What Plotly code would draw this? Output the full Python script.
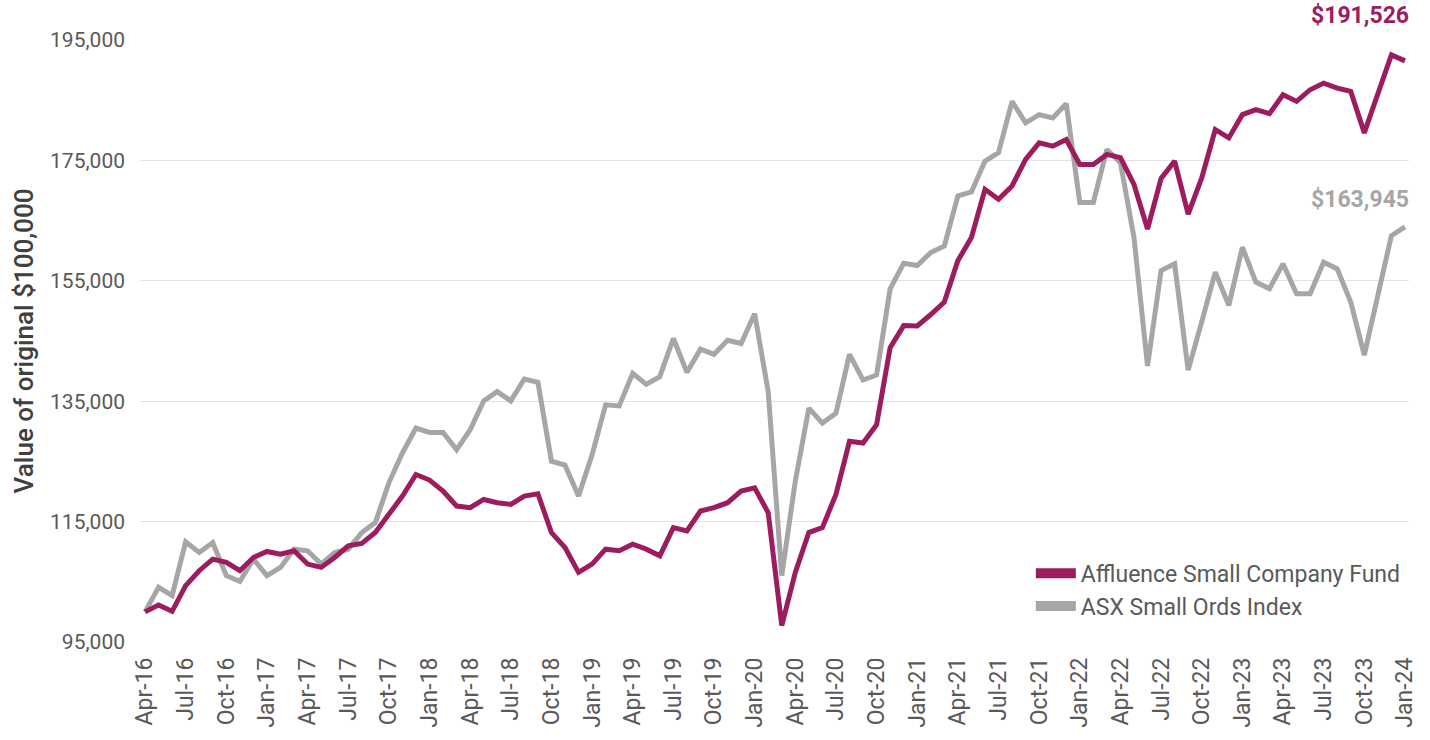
import pandas as pd
import plotly.graph_objects as go

months = [d.strftime("%b-%y") for d in pd.date_range("2016-04-01", "2024-01-01", freq="MS")]

fund = [100000, 101160, 100100, 104370, 106840, 108760, 108220, 106840, 109040, 110040,
        109590, 110150, 107940, 107390, 109040, 110970, 111360, 113180, 116210, 119240,
        122820, 121900, 120070, 117590, 117310, 118680, 118140, 117860, 119240, 119620,
        113180, 110700, 106570, 107940, 110420, 110150, 111250, 110420, 109320, 114000,
        113460, 116760, 117310, 118140, 120070, 120620, 116480, 97740, 106570, 113180,
        114000, 119510, 128330, 128050, 131080, 143900, 147560, 147510, 149400, 151460,
        158350, 162210, 170200, 168550, 170750, 175160, 177920, 177370, 178470, 174330,
        174330, 176000, 175450, 171000, 163590, 172000, 174880, 166070, 172090, 180120,
        178740, 182600, 183430, 182760, 185900, 184800, 186740, 187840, 187010, 186460,
        179570, 185900, 192520, 191526]

index = [100000, 104085, 102700, 111640, 109870, 111520, 106015, 105080, 108760, 106015,
         107390, 110420, 110150, 107940, 109870, 110420, 113180, 114830, 121440, 126400,
         130530, 129800, 129800, 126950, 130250, 135050, 136600, 135050, 138680, 138140,
         125030, 124370, 119240, 126120, 134390, 134220, 139620, 137800, 139070, 145410,
         139790, 143640, 142800, 145130, 144580, 149540, 136600, 106020, 121720, 133840,
         131360, 133010, 142770, 138520, 139350, 153680, 157900, 157530, 159700, 160800,
         169100, 169760, 174880, 176270, 184800, 181230, 182600, 182060, 184420, 168010,
         168010, 176820, 174620, 162200, 140850, 156700, 157810, 140170, 148170, 156430,
         150920, 160570, 154780, 153680, 157810, 152850, 152850, 158080, 156980, 151460,
         142650, 152570, 162490, 163945]

series_names = ["Affluence Small Company Fund", "ASX Small Ords Index"]
y_ticks = [95000, 115000, 135000, 155000, 175000, 195000]
tick_months = months[::3]

PURPLE = "#9c1c5e"
GREY = "#a6a6a6"
FONT = "Roboto"

fig = go.Figure()
for name, vals, col in [(series_names[1], index, GREY), (series_names[0], fund, PURPLE)]:
    fig.add_trace(go.Scatter(x=months, y=vals, mode="lines", name=name,
                             line=dict(color=col, width=5, shape="linear"),
                             showlegend=False, hoverinfo="x+y"))
# legend entries (thick swatches)
for name, col in [(series_names[0], PURPLE), (series_names[1], GREY)]:
    fig.add_trace(go.Scatter(x=[None], y=[None], mode="lines", name=name,
                             line=dict(color=col, width=14)))

# end-value labels
for vals, col in [(fund, PURPLE), (index, GREY)]:
    fig.add_annotation(x=months[-1], y=vals[-1], text=f"${vals[-1]:,.0f}",
                       showarrow=False, xanchor="right", yanchor="bottom",
                       xshift=6, yshift=12 if col == GREY else 30,
                       font=dict(family=FONT, size=23, color=col, weight="bold"))

fig.update_layout(
    width=1430, height=740,
    margin=dict(l=140, r=20, t=40, b=95),
    plot_bgcolor="white", paper_bgcolor="white",
    font=dict(family=FONT, color="#595959"),
    legend=dict(x=0.702, y=0.15, xanchor="left", yanchor="top",
                font=dict(family=FONT, size=23, color="#595959"),
                itemwidth=40, tracegroupgap=0, bgcolor="rgba(0,0,0,0)"),
    xaxis=dict(type="category", categoryorder="array", categoryarray=months,
               range=[-0.37, 93.3], tickmode="array", tickvals=tick_months,
               ticktext=tick_months, tickangle=-90, showgrid=False, ticks="",
               showline=False, zeroline=False, ticklabelstandoff=10,
               tickfont=dict(family=FONT, size=23, color="#595959")),
    yaxis=dict(range=[95000, 195000], tickmode="array", tickvals=y_ticks,
               tickformat=",d", showgrid=True, gridcolor="#dfe4ec", gridwidth=1,
               zeroline=False, showline=False, ticks="", ticklabelstandoff=14,
               tickfont=dict(family=FONT, size=21, color="#595959"),
               title=dict(text="Value of original $100,000", standoff=8,
                          font=dict(family=FONT, size=26, color="#404040", weight=500))),
)

fig.write_html("out.html", config={"displayModeBar": False},
               post_script="document.body.style.margin='0';")
